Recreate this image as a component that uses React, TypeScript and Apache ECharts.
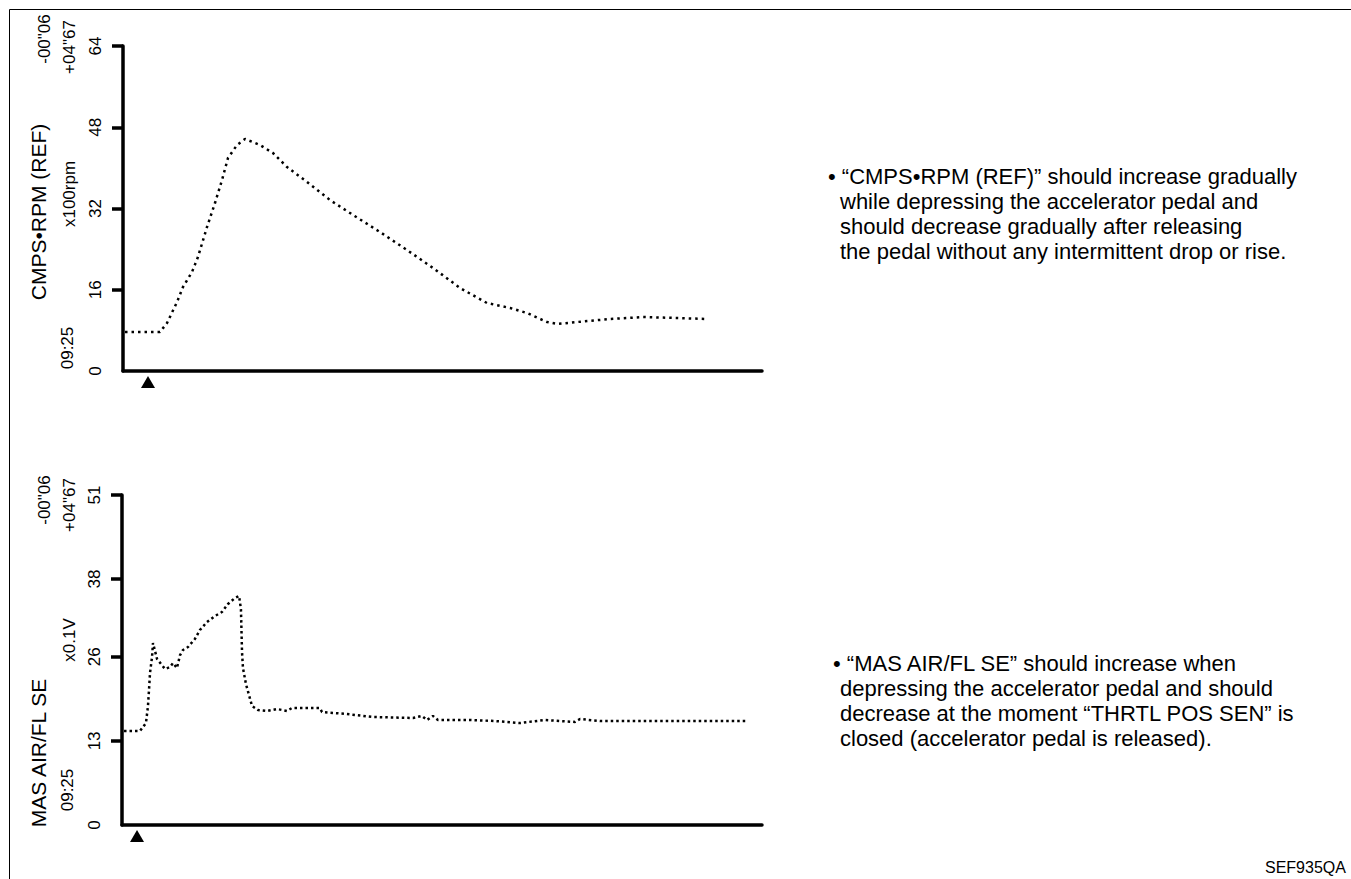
import React, { useEffect, useRef } from "react";
import * as echarts from "echarts";

// ---- Data (time in s) ----
const rpmTime = [-0.045, 0.214, 0.266, 0.34, 0.384, 0.451, 0.495, 0.562, 0.621, 0.673, 0.717, 0.784, 0.843, 0.954, 1.05, 1.154, 1.302, 1.472, 1.643, 1.842, 2.042, 2.235, 2.435, 2.634, 2.805, 2.93, 3.079, 3.153, 3.301, 3.545, 3.789, 4.041, 4.263];
const rpmValues = [7.68, 7.68, 9.45, 13.59, 16.54, 19.5, 22.45, 28.36, 33.08, 37.61, 41.94, 44.5, 45.69, 44.5, 42.93, 40.17, 37.22, 33.67, 30.72, 27.37, 23.83, 20.28, 16.34, 13.39, 12.41, 11.42, 9.65, 9.26, 9.65, 10.24, 10.63, 10.44, 10.24];

const mafTime = [-0.045, 0.073, 0.117, 0.132, 0.14, 0.147, 0.162, 0.169, 0.199, 0.258, 0.295, 0.317, 0.346, 0.369, 0.391, 0.428, 0.479, 0.516, 0.568, 0.627, 0.679, 0.723, 0.775, 0.805, 0.819, 0.827, 0.834, 0.856, 0.901, 0.945, 1.012, 1.085, 1.159, 1.196, 1.403, 1.418, 1.603, 1.795, 2.09, 2.157, 2.194, 2.238, 2.275, 2.512, 2.696, 2.881, 3.066, 3.288, 3.325, 3.472, 4.559];
const mafValues = [14.53, 14.53, 15.76, 18.39, 21.02, 23.49, 25.96, 28.13, 25.65, 24.11, 24.42, 25.04, 24.26, 26.27, 27.05, 27.51, 28.75, 30.14, 31.37, 32.3, 32.92, 34.15, 35.08, 35.39, 33.38, 26.74, 24.26, 21.79, 18.39, 17.77, 17.62, 17.93, 17.62, 18.08, 18.08, 17.46, 17.15, 16.69, 16.54, 16.85, 16.23, 16.85, 16.23, 16.23, 16.07, 15.76, 16.23, 15.92, 16.38, 16.07, 16.07];

const timeRange = [-0.06, 4.67];
const rpmTicks = [0, 16, 32, 48, 64];
const mafTicks = [0, 13, 26, 38, 51];
const rpmTrigger = 0.125;
const mafTrigger = 0.051;

const rpmSideTexts = ["CMPS•RPM (REF)", "-00\"06", "09:25", "x100rpm", "+04\"67"];
const mafSideTexts = ["MAS AIR/FL SE", "-00\"06", "09:25", "x0.1V", "+04\"67"];

const rpmNotes = [
  "• “CMPS•RPM (REF)” should increase gradually",
  "while depressing the accelerator pedal and",
  "should decrease gradually after releasing",
  "the pedal without any intermittent drop or rise.",
];
const mafNotes = [
  "• “MAS AIR/FL SE” should increase when",
  "depressing the accelerator pedal and should",
  "decrease at the moment “THRTL POS SEN” is",
  "closed (accelerator pedal is released).",
];
const figureCode = "SEF935QA";

const FONT = "'Liberation Sans', Arial, Helvetica, sans-serif";

export default function App() {
  const ref = useRef<HTMLDivElement>(null);
  useEffect(() => {
    if (!ref.current) return;
    const chart = echarts.init(ref.current, null, { renderer: "svg" });

    const xAxisBase = (gridIndex: number) => ({
      type: "value",
      gridIndex,
      min: timeRange[0],
      max: timeRange[1],
      axisLine: { show: true, onZero: false, lineStyle: { color: "#000", width: 3.5 } },
      axisTick: { show: false },
      axisLabel: { show: false },
      splitLine: { show: false },
    });
    const yAxisBase = (gridIndex: number, ticks: number[]) => ({
      type: "value",
      gridIndex,
      min: ticks[0],
      max: ticks[ticks.length - 1],
      axisLine: { show: true, onZero: false, lineStyle: { color: "#000", width: 3.5 } },
      axisTick: {
        show: true,
        length: 11,
        customValues: ticks.slice(1),
        lineStyle: { color: "#000", width: 3.5 },
      },
      axisLabel: {
        show: true,
        rotate: 90,
        margin: 19,
        customValues: ticks,
        color: "#000",
        fontSize: 17,
        fontFamily: FONT,
      },
      splitLine: { show: false },
    });

    const rotated = (text: string, x: number, y: number, size: number) => ({
      type: "text",
      x,
      y,
      rotation: Math.PI / 2,
      style: {
        text,
        fill: "#000",
        font: `${size}px ${FONT}`,
        textAlign: "center",
        textVerticalAlign: "middle",
      },
    });
    const note = (text: string, x: number, y: number) => ({
      type: "text",
      x,
      y,
      style: {
        text,
        fill: "#000",
        font: `22px ${FONT}`,
        textAlign: "left",
        textVerticalAlign: "middle",
      },
    });

    const graphics: any[] = [
      {
        type: "rect",
        shape: { x: 9.5, y: 9.5, width: 1500, height: 1000 },
        style: { fill: "none", stroke: "#000", lineWidth: 1 },
        silent: true,
      },
      rotated(rpmSideTexts[0], 38, 212, 21),
      rotated(rpmSideTexts[1], 44, 39, 17),
      rotated(rpmSideTexts[2], 67, 348, 17),
      rotated(rpmSideTexts[3], 69, 194, 17),
      rotated(rpmSideTexts[4], 69, 47, 17),
      rotated(mafSideTexts[0], 38, 753, 21),
      rotated(mafSideTexts[1], 44, 500, 17),
      rotated(mafSideTexts[2], 67, 790, 17),
      rotated(mafSideTexts[3], 69, 640, 17),
      rotated(mafSideTexts[4], 69, 505, 17),
      note(rpmNotes[0], 828, 176),
      note(rpmNotes[1], 840, 201),
      note(rpmNotes[2], 840, 226),
      note(rpmNotes[3], 840, 251),
      note(mafNotes[0], 833, 663),
      note(mafNotes[1], 840, 688),
      note(mafNotes[2], 840, 713),
      note(mafNotes[3], 840, 738),
      {
        type: "text",
        x: 1265,
        y: 867,
        style: {
          text: figureCode,
          fill: "#000",
          font: `16px ${FONT}`,
          textAlign: "left",
          textVerticalAlign: "middle",
        },
      },
    ];

    const trianglePoint = (t: number) => ({
      symbol: "triangle",
      symbolSize: [14, 12],
      symbolOffset: [0, 11],
      itemStyle: { color: "#000" },
      label: { show: false },
      data: [{ coord: [t, 0] }],
    });

    chart.setOption({
      animation: false,
      backgroundColor: "#fff",
      grid: [
        { left: 123, top: 46, width: 639, height: 325 },
        { left: 122, top: 495, width: 640, height: 330 },
      ],
      xAxis: [xAxisBase(0), xAxisBase(1)],
      yAxis: [yAxisBase(0, rpmTicks), yAxisBase(1, mafTicks)],
      graphic: graphics,
      series: [
        {
          type: "line",
          xAxisIndex: 0,
          yAxisIndex: 0,
          data: rpmTime.map((t, i) => [t, rpmValues[i]]),
          showSymbol: false,
          lineStyle: { color: "#000", width: 2.5, type: [2.5, 4], cap: "butt" },
          markPoint: trianglePoint(rpmTrigger),
        },
        {
          type: "line",
          xAxisIndex: 1,
          yAxisIndex: 1,
          data: mafTime.map((t, i) => [t, mafValues[i]]),
          showSymbol: false,
          lineStyle: { color: "#000", width: 2.5, type: [2.5, 3], cap: "butt" },
          markPoint: trianglePoint(mafTrigger),
        },
      ],
    });
    return () => chart.dispose();
  }, []);
  return (
    <div
      ref={ref}
      style={{ position: "absolute", left: 0, top: 0, width: 1351, height: 879, background: "#fff" }}
    />
  );
}
